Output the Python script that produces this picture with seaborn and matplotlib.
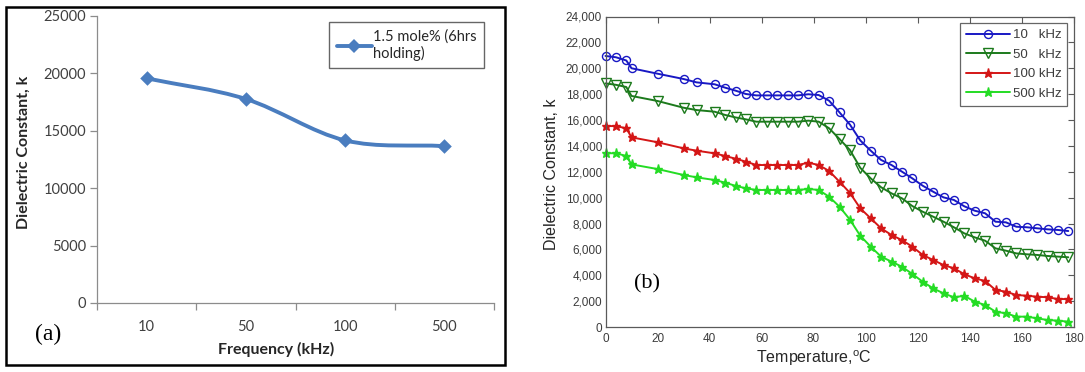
import matplotlib
matplotlib.use("Agg")
import matplotlib.pyplot as plt
import seaborn as sns
import pandas as pd
from matplotlib.path import Path
from matplotlib.patches import PathPatch, Rectangle
from matplotlib.lines import Line2D
from matplotlib.ticker import FuncFormatter, MultipleLocator, FixedLocator

# ---------------- data ----------------
# (a) dielectric constant vs. frequency
freq_labels = ["10", "50", "100", "500"]
k_vs_freq = [19550, 17750, 14150, 13650]
series_a_label = "1.5 mole% (6hrs\nholding)"

# (b) dielectric constant vs. temperature at four frequencies
temps = [0, 4, 8, 10, 20, 30, 35, 42, 46, 50, 54, 58, 62, 66, 70, 74, 78, 82,
         86, 90, 94, 98, 102, 106, 110, 114, 118, 122, 126, 130, 134, 138,
         142, 146, 150, 154, 158, 162, 166, 170, 174, 178]
k_10khz = [20950, 20850, 20600, 20000, 19580, 19170, 18910, 18760, 18500, 18270,
           18010, 17900, 17900, 17900, 17900, 17900, 17990, 17930, 17490, 16590,
           15650, 14420, 13630, 12910, 12520, 12010, 11490, 10920, 10460, 10020,
           9820, 9330, 8990, 8790, 8140, 8090, 7750, 7710, 7630, 7550, 7500, 7420]
k_50khz = [18830, 18720, 18550, 17860, 17470, 16950, 16770, 16640, 16390, 16200,
           16050, 15870, 15870, 15870, 15870, 15870, 15950, 15870, 15360, 14530,
           13680, 12300, 11490, 10800, 10330, 9950, 9350, 8910, 8530, 8140,
           7710, 7240, 6930, 6670, 6080, 5900, 5690, 5620, 5570, 5490, 5440, 5390]
k_100khz = [15530, 15530, 15360, 14660, 14280, 13810, 13630, 13420, 13220, 13010,
            12780, 12520, 12520, 12520, 12520, 12520, 12700, 12520, 12060, 11230,
            10370, 9170, 8400, 7630, 7110, 6720, 6210, 5570, 5180, 4790,
            4540, 4080, 3760, 3560, 2860, 2730, 2470, 2420, 2340, 2300, 2160, 2160]
k_500khz = [13430, 13430, 13220, 12570, 12210, 11750, 11570, 11360, 11160, 10910,
            10720, 10590, 10590, 10590, 10590, 10590, 10670, 10590, 10070, 9300,
            8300, 7050, 6210, 5440, 5050, 4660, 4100, 3500, 2990, 2600,
            2300, 2410, 1960, 1700, 1180, 1060, 800, 800, 670, 540, 490, 410]
legend_b = ["10   kHz", "50   kHz", "100 kHz", "500 kHz"]

# ---------------- style ----------------
sns.set_style("white")
plt.rcParams["font.family"] = ["Liberation Sans", "DejaVu Sans"]
plt.rcParams["mathtext.default"] = "regular"

W, H = 1085, 372
fig = plt.figure(figsize=(W / 100, H / 100), dpi=100)
fig.patch.set_facecolor("white")


def fig_rect(left, top, right, bottom):
    """Axes rectangle from pixel edges (origin top-left)."""
    return [left / W, (H - bottom) / H, (right - left) / W, (bottom - top) / H]


# ================= panel (a) =================
SANS_A = ["Lato", "DejaVu Sans"]
blue_a = "#4a7dbf"
grey_axis = "#8c8c8c"

fig.add_artist(Rectangle((6 / W, (H - 365) / H), (505 - 6) / W, (365 - 7) / H,
                         transform=fig.transFigure, fill=False,
                         edgecolor="black", linewidth=1.8))

ax_a = fig.add_axes(fig_rect(97, 15.7, 494, 303))
xa = list(range(len(freq_labels)))
df_a = pd.DataFrame({"x": xa, "k": k_vs_freq})

# smoothed connecting curve (cubic Bezier segments through the points)
pts = list(zip(xa, k_vs_freq))
n = len(pts)
tang = []
for i in range(n):
    p_prev = pts[max(i - 1, 0)]
    p_next = pts[min(i + 1, n - 1)]
    scale = 0.5 if 0 < i < n - 1 else 1.0
    tang.append(((p_next[0] - p_prev[0]) * scale, (p_next[1] - p_prev[1]) * scale))
verts = [pts[0]]
codes = [Path.MOVETO]
for i in range(n - 1):
    c1 = (pts[i][0] + tang[i][0] / 3, pts[i][1] + tang[i][1] / 3)
    c2 = (pts[i + 1][0] - tang[i + 1][0] / 3, pts[i + 1][1] - tang[i + 1][1] / 3)
    verts += [c1, c2, pts[i + 1]]
    codes += [Path.CURVE4] * 3
ax_a.add_patch(PathPatch(Path(verts, codes), facecolor="none", edgecolor=blue_a,
                         linewidth=2.8, capstyle="round", zorder=2))
sns.scatterplot(data=df_a, x="x", y="k", ax=ax_a, marker="D", s=55,
                color=blue_a, edgecolor=blue_a, linewidth=0, zorder=3)

ax_a.set_xlim(-0.5, len(freq_labels) - 0.5)
ax_a.set_ylim(0, 25000)
ax_a.yaxis.set_major_locator(MultipleLocator(5000))
ax_a.xaxis.set_major_locator(FixedLocator(xa))
ax_a.xaxis.set_minor_locator(FixedLocator([i - 0.5 for i in range(len(xa) + 1)]))
ax_a.set_xticklabels(freq_labels)
for side in ("top", "right"):
    ax_a.spines[side].set_visible(False)
for side in ("left", "bottom"):
    ax_a.spines[side].set_color(grey_axis)
    ax_a.spines[side].set_linewidth(0.9)
ax_a.tick_params(axis="x", which="major", length=0, pad=12, labelsize=10.5,
                 labelcolor="#404040")
ax_a.tick_params(axis="x", which="minor", length=5, width=0.9, color=grey_axis,
                 direction="out", bottom=True)
ax_a.tick_params(axis="y", length=5, width=0.9, color=grey_axis, direction="out",
                 left=True, pad=3, labelsize=10.5, labelcolor="#404040")
for lab in ax_a.get_xticklabels() + ax_a.get_yticklabels():
    lab.set_family(SANS_A)

ax_a.set_xlabel("Frequency (kHz)", family=SANS_A, fontweight="bold",
                fontsize=11.5, color="#262626", va="center")
ax_a.xaxis.set_label_coords((276 - 97) / 397, (303 - 349) / 287.3)
ax_a.set_ylabel("Dielectric Constant, k", family=SANS_A, fontweight="bold",
                fontsize=11.5, color="#262626", va="center")
ax_a.yaxis.set_label_coords((24 - 97) / 397, (303 - 152) / 287.3)

handle_a = Line2D([], [], color=blue_a, linewidth=2.8, marker="D",
                  markersize=7, markeredgewidth=0)
leg_a = ax_a.legend([handle_a], [series_a_label], loc="upper right",
                    bbox_to_anchor=((484 - 97) / 397, (303 - 22) / 287.3),
                    borderaxespad=0, frameon=True, fancybox=False,
                    prop={"family": SANS_A, "size": 10.5},
                    handlelength=2.4, handletextpad=0.1, borderpad=0.5)
leg_a.get_frame().set_edgecolor("#404040")
leg_a.get_frame().set_linewidth(1.0)
for t in leg_a.get_texts():
    t.set_color("#262626")

fig.text(48 / W, 1 - 334 / H, "(a)", family=["Liberation Serif"], fontsize=17,
         ha="center", va="center", color="black")

# ================= panel (b) =================
ax_b = fig.add_axes(fig_rect(605.5, 16.5, 1073.5, 327))
series_b = [
    (k_10khz, "#1818c4", "o", "none", 5.8),
    (k_50khz, "#1c7a1c", "v", "none", 6.5),
    (k_100khz, "#d41616", "*", "#d41616", 6.8),
    (k_500khz, "#24dc24", "*", "#24dc24", 6.8),
]
for (vals, col, mk, mfc, ms), lab in zip(series_b, legend_b):
    sns.lineplot(x=temps, y=vals, ax=ax_b, color=col, linewidth=1.4, marker=mk,
                 markersize=ms, markerfacecolor=mfc, markeredgecolor=col,
                 markeredgewidth=1.0, label=lab, sort=False, clip_on=False)

ax_b.set_xlim(0, 180)
ax_b.set_ylim(0, 24000)
ax_b.xaxis.set_major_locator(MultipleLocator(20))
ax_b.yaxis.set_major_locator(MultipleLocator(2000))
ax_b.yaxis.set_major_formatter(FuncFormatter(lambda v, p: f"{int(v):,}"))
for side in ax_b.spines.values():
    side.set_color("#5a5a5a")
    side.set_linewidth(0.9)
ax_b.tick_params(axis="both", which="major", direction="in", length=4.5,
                 width=0.8, color="#5a5a5a", top=True, right=True,
                 labelsize=8.5, labelcolor="#3c3c3c")
ax_b.tick_params(axis="y", pad=2.5)
ax_b.tick_params(axis="x", pad=4)

ax_b.set_xlabel("Temperature,$^{o}$C", fontsize=11.5, color="#262626", va="center")
ax_b.xaxis.set_label_coords((814 - 605.5) / 468, (327 - 358) / 310.5)
ax_b.set_ylabel("Dielectric Constant, k", fontsize=11.5, color="#262626", va="center")
ax_b.yaxis.set_label_coords((552 - 605.5) / 468, (327 - 174) / 310.5)

leg_b = ax_b.legend(loc="upper right",
                    bbox_to_anchor=((1067.3 - 605.5) / 468, (327 - 23.3) / 310.5),
                    borderaxespad=0, frameon=True, fancybox=False,
                    fontsize=9.5, handlelength=3.3, handletextpad=0.2,
                    labelspacing=0.55, borderpad=0.45)
leg_b.get_frame().set_edgecolor("#404040")
leg_b.get_frame().set_linewidth(0.9)
for t in leg_b.get_texts():
    t.set_color("#3c3c3c")

fig.text(647 / W, 1 - 284 / H, "(b)", family=["Liberation Serif"], fontsize=16,
         ha="center", va="center", color="black")

fig.savefig("out.png", dpi=100, facecolor="white")
